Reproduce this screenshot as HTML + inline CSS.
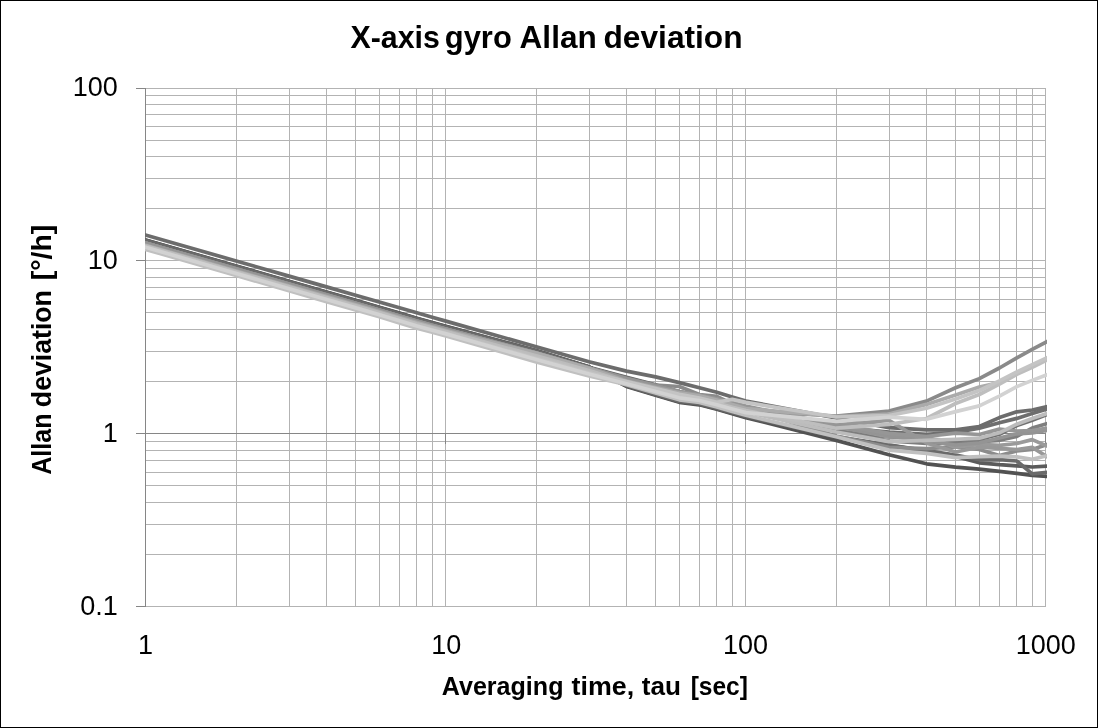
<!DOCTYPE html>
<html><head><meta charset="utf-8"><title>X-axis gyro Allan deviation</title>
<style>html,body{margin:0;padding:0;background:#fff;}body{width:1098px;height:728px;position:relative;overflow:hidden;font-family:"Liberation Sans",sans-serif;}</style></head>
<body>
<svg width="1098" height="728" viewBox="0 0 1098 728" style="position:absolute;left:0;top:0;will-change:transform;filter:grayscale(1)">
<rect x="0" y="0" width="1098" height="728" fill="#fff"/>
<path d="M145.5 88.0V607.0M236.5 88.0V607.0M289.5 88.0V607.0M326.5 88.0V607.0M355.5 88.0V607.0M379.5 88.0V607.0M399.5 88.0V607.0M416.5 88.0V607.0M432.5 88.0V607.0M445.5 88.0V607.0M536.5 88.0V607.0M589.5 88.0V607.0M626.5 88.0V607.0M655.5 88.0V607.0M679.5 88.0V607.0M699.5 88.0V607.0M716.5 88.0V607.0M732.5 88.0V607.0M745.5 88.0V607.0M836.5 88.0V607.0M889.5 88.0V607.0M926.5 88.0V607.0M955.5 88.0V607.0M979.5 88.0V607.0M999.5 88.0V607.0M1016.5 88.0V607.0M1032.5 88.0V607.0M1045.5 88.0V607.0M145.0 606.5H1046.0M145.0 554.5H1046.0M145.0 524.5H1046.0M145.0 502.5H1046.0M145.0 485.5H1046.0M145.0 472.5H1046.0M145.0 460.5H1046.0M145.0 450.5H1046.0M145.0 441.5H1046.0M145.0 433.5H1046.0M145.0 381.5H1046.0M145.0 351.5H1046.0M145.0 329.5H1046.0M145.0 312.5H1046.0M145.0 299.5H1046.0M145.0 287.5H1046.0M145.0 277.5H1046.0M145.0 268.5H1046.0M145.0 260.5H1046.0M145.0 208.5H1046.0M145.0 178.5H1046.0M145.0 156.5H1046.0M145.0 140.5H1046.0M145.0 126.5H1046.0M145.0 114.5H1046.0M145.0 104.5H1046.0M145.0 95.5H1046.0M145.0 88.5H1046.0" stroke="#b3b3b3" stroke-width="1" fill="none" shape-rendering="crispEdges"/>
<path d="M145.5 88.0V607.0M145.0 433.5H1046.0M136.0 606.5H145.5M136.0 433.5H145.5M136.0 260.5H145.5M136.0 88.5H145.5M145.5 433.5V444.0M445.5 433.5V444.0M745.5 433.5V444.0M1045.5 433.5V444.0" stroke="#868686" stroke-width="1" fill="none" shape-rendering="crispEdges"/>
<clipPath id="pc"><rect x="145.0" y="80" width="902.0" height="540"/></clipPath>
<g clip-path="url(#pc)" fill="none" stroke-width="3.7" stroke-linejoin="round" stroke-linecap="square">
<path d="M142.9 240.0L236.2 266.9L289.0 282.1L326.5 292.9L355.6 301.3L379.3 308.2L399.4 314.1L416.8 319.2L432.2 323.5L445.9 327.4L536.2 351.3L589.0 367.4L626.5 377.4L655.6 384.9L679.3 391.6L699.4 395.9L716.8 400.7L732.2 405.5L745.9 409.6L836.2 427.0L889.0 432.0L926.5 434.4L955.6 432.4L979.3 428.3L999.4 422.8L1016.8 418.4L1032.2 413.6L1048.9 408.4" stroke="#6e6e6e"/>
<path d="M142.9 240.3L236.2 267.2L289.0 282.4L326.5 293.2L355.6 301.6L379.3 308.5L399.4 314.4L416.8 319.5L432.2 323.8L445.9 327.7L536.2 351.6L589.0 367.7L626.5 377.8L655.6 385.4L679.3 392.2L699.4 396.4L716.8 401.2L732.2 406.0L745.9 410.1L836.2 431.0L889.0 437.0L926.5 439.0L955.6 440.5L979.3 439.5L999.4 434.3L1016.8 425.6L1032.2 420.2L1048.9 413.9" stroke="#707070"/>
<path d="M142.9 239.2L236.2 266.1L289.0 281.2L326.5 292.0L355.6 300.4L379.3 307.2L399.4 313.1L416.8 318.2L432.2 322.5L445.9 326.3L536.2 350.6L589.0 366.8L626.5 386.4L655.6 395.2L679.3 402.3L699.4 404.8L716.8 409.3L732.2 413.8L745.9 417.6L836.2 440.4L889.0 454.8L926.5 463.8L955.6 467.2L979.3 469.2L999.4 471.3L1016.8 473.4L1032.2 475.4L1048.9 476.6" stroke="#525252"/>
<path d="M142.9 239.4L236.2 266.3L289.0 281.5L326.5 292.3L355.6 300.6L379.3 307.5L399.4 313.4L416.8 318.5L432.2 322.8L445.9 326.6L536.2 350.7L589.0 366.9L626.5 386.1L655.6 394.7L679.3 401.7L699.4 404.2L716.8 408.7L732.2 413.2L745.9 416.9L836.2 437.5L889.0 445.1L926.5 451.3L955.6 456.5L979.3 462.8L999.4 464.7L1016.8 465.8L1032.2 467.0L1048.9 465.9" stroke="#5b5b5b"/>
<path d="M142.9 239.7L236.2 266.6L289.0 281.8L326.5 292.6L355.6 301.0L379.3 307.9L399.4 313.8L416.8 318.9L432.2 323.2L445.9 327.1L536.2 351.0L589.0 367.1L626.5 385.6L655.6 394.2L679.3 401.1L699.4 403.6L716.8 408.1L732.2 412.5L745.9 416.3L836.2 436.5L889.0 445.1L926.5 450.7L955.6 455.0L979.3 459.8L999.4 459.6L1016.8 461.0L1032.2 473.9L1048.9 472.2" stroke="#6a6a6a"/>
<path d="M142.9 234.2L236.2 261.0L289.0 276.1L326.5 286.9L355.6 295.2L379.3 302.0L399.4 307.8L416.8 312.8L432.2 317.2L445.9 321.1L536.2 346.8L589.0 361.7L626.5 371.1L655.6 376.9L679.3 382.6L699.4 387.7L716.8 392.3L732.2 397.0L745.9 401.0L836.2 418.0L889.0 427.6L926.5 429.9L955.6 429.9L979.3 426.5L999.4 417.6L1016.8 411.8L1032.2 410.0L1048.9 406.2" stroke="#6c6c6c"/>
<path d="M142.9 242.2L236.2 268.9L289.0 284.1L326.5 294.9L355.6 303.2L379.3 310.0L399.4 316.0L416.8 321.1L432.2 325.4L445.9 329.1L536.2 352.8L589.0 368.0L626.5 378.4L655.6 385.8L679.3 392.2L699.4 396.1L716.8 400.7L732.2 405.4L745.9 409.3L836.2 430.0L889.0 441.0L926.5 443.5L955.6 443.5L979.3 441.7L999.4 440.3L1016.8 436.5L1032.2 428.0L1048.9 423.0" stroke="#7e7e7e"/>
<path d="M142.9 242.2L236.2 268.9L289.0 284.1L326.5 294.9L355.6 303.2L379.3 310.0L399.4 316.0L416.8 321.1L432.2 325.4L445.9 329.1L536.2 353.0L589.0 368.1L626.5 378.8L655.6 385.0L679.3 386.5L699.4 394.5L716.8 396.4L732.2 403.7L745.9 411.0L836.2 416.0L889.0 411.0L926.5 401.1L955.6 387.8L979.3 378.6L999.4 368.0L1016.8 357.8L1032.2 349.3L1048.9 340.6" stroke="#8a8a8a"/>
<path d="M142.9 242.3L236.2 269.1L289.0 284.3L326.5 295.0L355.6 303.4L379.3 310.2L399.4 316.1L416.8 321.3L432.2 325.5L445.9 329.3L536.2 353.1L589.0 368.3L626.5 378.9L655.6 385.9L679.3 392.0L699.4 395.7L716.8 400.1L732.2 404.5L745.9 408.3L836.2 436.0L889.0 447.4L926.5 448.6L955.6 447.0L979.3 449.5L999.4 455.5L1016.8 451.0L1032.2 449.5L1048.9 443.9" stroke="#8c8c8c"/>
<path d="M142.9 242.4L236.2 269.2L289.0 284.4L326.5 295.2L355.6 303.5L379.3 310.3L399.4 316.3L416.8 321.4L432.2 325.7L445.9 329.4L536.2 353.3L589.0 368.4L626.5 379.1L655.6 386.0L679.3 391.7L699.4 395.2L716.8 399.0L732.2 403.2L745.9 406.8L836.2 426.0L889.0 437.0L926.5 437.1L955.6 447.2L979.3 444.3L999.4 445.4L1016.8 443.5L1032.2 439.6L1048.9 446.8" stroke="#9a9a9a"/>
<path d="M142.9 242.4L236.2 269.2L289.0 284.4L326.5 295.2L355.6 303.5L379.3 310.3L399.4 316.3L416.8 321.4L432.2 325.7L445.9 329.4L536.2 353.4L589.0 368.6L626.5 379.2L655.6 386.0L679.3 391.9L699.4 395.4L716.8 399.6L732.2 404.0L745.9 407.6L836.2 424.8L889.0 420.4L926.5 443.0L955.6 452.0L979.3 447.2L999.4 448.3L1016.8 449.5L1032.2 447.4L1048.9 457.8" stroke="#989898"/>
<path d="M142.9 242.2L236.2 268.9L289.0 284.1L326.5 294.9L355.6 303.2L379.3 310.0L399.4 316.0L416.8 321.1L432.2 325.4L445.9 329.1L536.2 353.0L589.0 368.1L626.5 378.6L655.6 385.7L679.3 391.9L699.4 395.7L716.8 400.1L732.2 404.6L745.9 408.5L836.2 427.0L889.0 436.0L926.5 441.0L955.6 445.0L979.3 443.0L999.4 438.0L1016.8 433.8L1032.2 433.0L1048.9 430.1" stroke="#949494"/>
<path d="M142.9 242.6L236.2 269.4L289.0 284.6L326.5 295.3L355.6 303.7L379.3 310.5L399.4 316.4L416.8 321.6L432.2 325.8L445.9 329.6L536.2 353.6L589.0 368.7L626.5 379.4L655.6 386.4L679.3 392.1L699.4 395.2L716.8 399.1L732.2 402.5L745.9 406.0L836.2 424.8L889.0 433.3L926.5 436.5L955.6 433.1L979.3 434.5L999.4 429.1L1016.8 431.0L1032.2 430.5L1048.9 427.7" stroke="#969696"/>
<path d="M142.9 244.5L236.2 271.0L289.0 286.0L326.5 296.6L355.6 304.9L379.3 311.6L399.4 317.5L416.8 322.6L432.2 326.8L445.9 330.5L536.2 353.1L589.0 368.3L626.5 381.1L655.6 387.5L679.3 392.8L699.4 395.9L716.8 400.1L732.2 404.6L745.9 408.5L836.2 416.5L889.0 414.0L926.5 404.4L955.6 394.9L979.3 387.0L999.4 382.5L1016.8 373.2L1032.2 366.0L1048.9 358.0" stroke="#ababab"/>
<path d="M142.9 245.0L236.2 271.7L289.0 286.8L326.5 297.5L355.6 305.8L379.3 312.5L399.4 318.5L416.8 323.7L432.2 327.8L445.9 331.5L536.2 355.9L589.0 370.6L626.5 382.1L655.6 389.8L679.3 396.3L699.4 399.4L716.8 403.8L732.2 408.2L745.9 412.0L836.2 432.0L889.0 441.6L926.5 440.4L955.6 439.4L979.3 438.2L999.4 432.8L1016.8 424.2L1032.2 418.4L1048.9 412.8" stroke="#bcbcbc"/>
<path d="M142.9 245.8L236.2 272.5L289.0 287.6L326.5 298.4L355.6 306.7L379.3 313.5L399.4 319.5L416.8 324.7L432.2 328.9L445.9 332.6L536.2 357.4L589.0 372.0L626.5 383.3L655.6 390.6L679.3 396.4L699.4 399.1L716.8 403.1L732.2 407.2L745.9 410.6L836.2 428.2L889.0 424.4L926.5 418.5L955.6 403.5L979.3 394.5L999.4 384.1L1016.8 374.4L1032.2 367.3L1048.9 359.1" stroke="#bebebe"/>
<path d="M142.9 246.5L236.2 273.3L289.0 288.5L326.5 299.3L355.6 307.6L379.3 314.5L399.4 320.5L416.8 325.8L432.2 329.9L445.9 333.6L536.2 358.6L589.0 373.1L626.5 381.5L655.6 388.6L679.3 394.4L699.4 398.0L716.8 402.2L732.2 399.4L745.9 402.4L836.2 417.0L889.0 415.5L926.5 408.2L955.6 399.0L979.3 390.5L999.4 380.9L1016.8 372.0L1032.2 364.7L1048.9 356.8" stroke="#c4c4c4"/>
<path d="M142.9 248.6L236.2 275.5L289.0 290.8L326.5 301.6L355.6 310.0L379.3 316.8L399.4 322.9L416.8 328.2L432.2 332.3L445.9 336.0L536.2 361.9L589.0 376.0L626.5 384.6L655.6 392.9L679.3 399.8L699.4 402.5L716.8 407.0L732.2 411.5L745.9 415.3L836.2 436.8L889.0 450.1L926.5 453.4L955.6 457.6L979.3 456.6L999.4 456.1L1016.8 456.9L1032.2 459.4L1048.9 455.1" stroke="#c0c0c0"/>
<path d="M142.9 246.5L236.2 273.5L289.0 288.7L326.5 299.5L355.6 307.9L379.3 314.7L399.4 320.8L416.8 326.0L432.2 330.2L445.9 333.9L536.2 359.5L589.0 374.0L626.5 383.8L655.6 391.5L679.3 397.8L699.4 400.5L716.8 404.7L732.2 409.0L745.9 412.6L836.2 421.4L889.0 417.2L926.5 419.3L955.6 411.6L979.3 405.9L999.4 396.2L1016.8 386.6L1032.2 380.4L1048.9 374.1" stroke="#d2d2d2"/>
</g>
<text x="350.50" y="47.8" font-size="31" font-weight="bold" textLength="89.31" lengthAdjust="spacingAndGlyphs" font-family="Liberation Sans, sans-serif" fill="#000" >X-axis</text>
<text x="444.80" y="47.8" font-size="31" font-weight="bold" textLength="66.98" lengthAdjust="spacingAndGlyphs" font-family="Liberation Sans, sans-serif" fill="#000" >gyro</text>
<text x="519.60" y="47.8" font-size="31" font-weight="bold" textLength="77.13" lengthAdjust="spacingAndGlyphs" font-family="Liberation Sans, sans-serif" fill="#000" >Allan</text>
<text x="603.48" y="47.8" font-size="31" font-weight="bold" textLength="139.14" lengthAdjust="spacingAndGlyphs" font-family="Liberation Sans, sans-serif" fill="#000" >deviation</text>
<text x="441.80" y="695.0" font-size="25.3" font-weight="bold" textLength="121.67" lengthAdjust="spacingAndGlyphs" font-family="Liberation Sans, sans-serif" fill="#000" >Averaging</text>
<text x="571.60" y="695.0" font-size="25.3" font-weight="bold" textLength="62.61" lengthAdjust="spacingAndGlyphs" font-family="Liberation Sans, sans-serif" fill="#000" >time,</text>
<text x="641.80" y="695.0" font-size="25.3" font-weight="bold" textLength="39.18" lengthAdjust="spacingAndGlyphs" font-family="Liberation Sans, sans-serif" fill="#000" >tau</text>
<text x="690.63" y="695.0" font-size="25.3" font-weight="bold" textLength="57.30" lengthAdjust="spacingAndGlyphs" font-family="Liberation Sans, sans-serif" fill="#000" >[sec]</text>
<g transform="translate(50.6 0) rotate(-90)">
<text x="-474.80" y="0" font-size="27.6" font-weight="bold" textLength="61.34" lengthAdjust="spacingAndGlyphs" font-family="Liberation Sans, sans-serif" fill="#000" >Allan</text>
<text x="-407.17" y="0" font-size="27.6" font-weight="bold" textLength="117.07" lengthAdjust="spacingAndGlyphs" font-family="Liberation Sans, sans-serif" fill="#000" >deviation</text>
<text x="-280.33" y="0" font-size="27.6" font-weight="bold" textLength="55.60" lengthAdjust="spacingAndGlyphs" font-family="Liberation Sans, sans-serif" fill="#000" >[°/h]</text>
</g>
<text x="117.9" y="95.7" font-size="27" text-anchor="end" font-family="Liberation Sans, sans-serif" fill="#000" >100</text>
<text x="117.9" y="268.7" font-size="27" text-anchor="end" font-family="Liberation Sans, sans-serif" fill="#000" >10</text>
<text x="117.9" y="441.7" font-size="27" text-anchor="end" font-family="Liberation Sans, sans-serif" fill="#000" >1</text>
<text x="117.9" y="614.7" font-size="27" text-anchor="end" font-family="Liberation Sans, sans-serif" fill="#000" >0.1</text>
<text x="145.5" y="654.3" font-size="27" text-anchor="middle" font-family="Liberation Sans, sans-serif" fill="#000" >1</text>
<text x="446.3" y="654.3" font-size="27" text-anchor="middle" font-family="Liberation Sans, sans-serif" fill="#000" >10</text>
<text x="745.6" y="654.3" font-size="27" text-anchor="middle" font-family="Liberation Sans, sans-serif" fill="#000" >100</text>
<text x="1045.7" y="654.3" font-size="27" text-anchor="middle" font-family="Liberation Sans, sans-serif" fill="#000" >1000</text>
<path d="M0.5 0.5H1097.5V727.5H0.5Z" stroke="#000" stroke-width="1" fill="none" shape-rendering="crispEdges"/>
</svg>
</body></html>
